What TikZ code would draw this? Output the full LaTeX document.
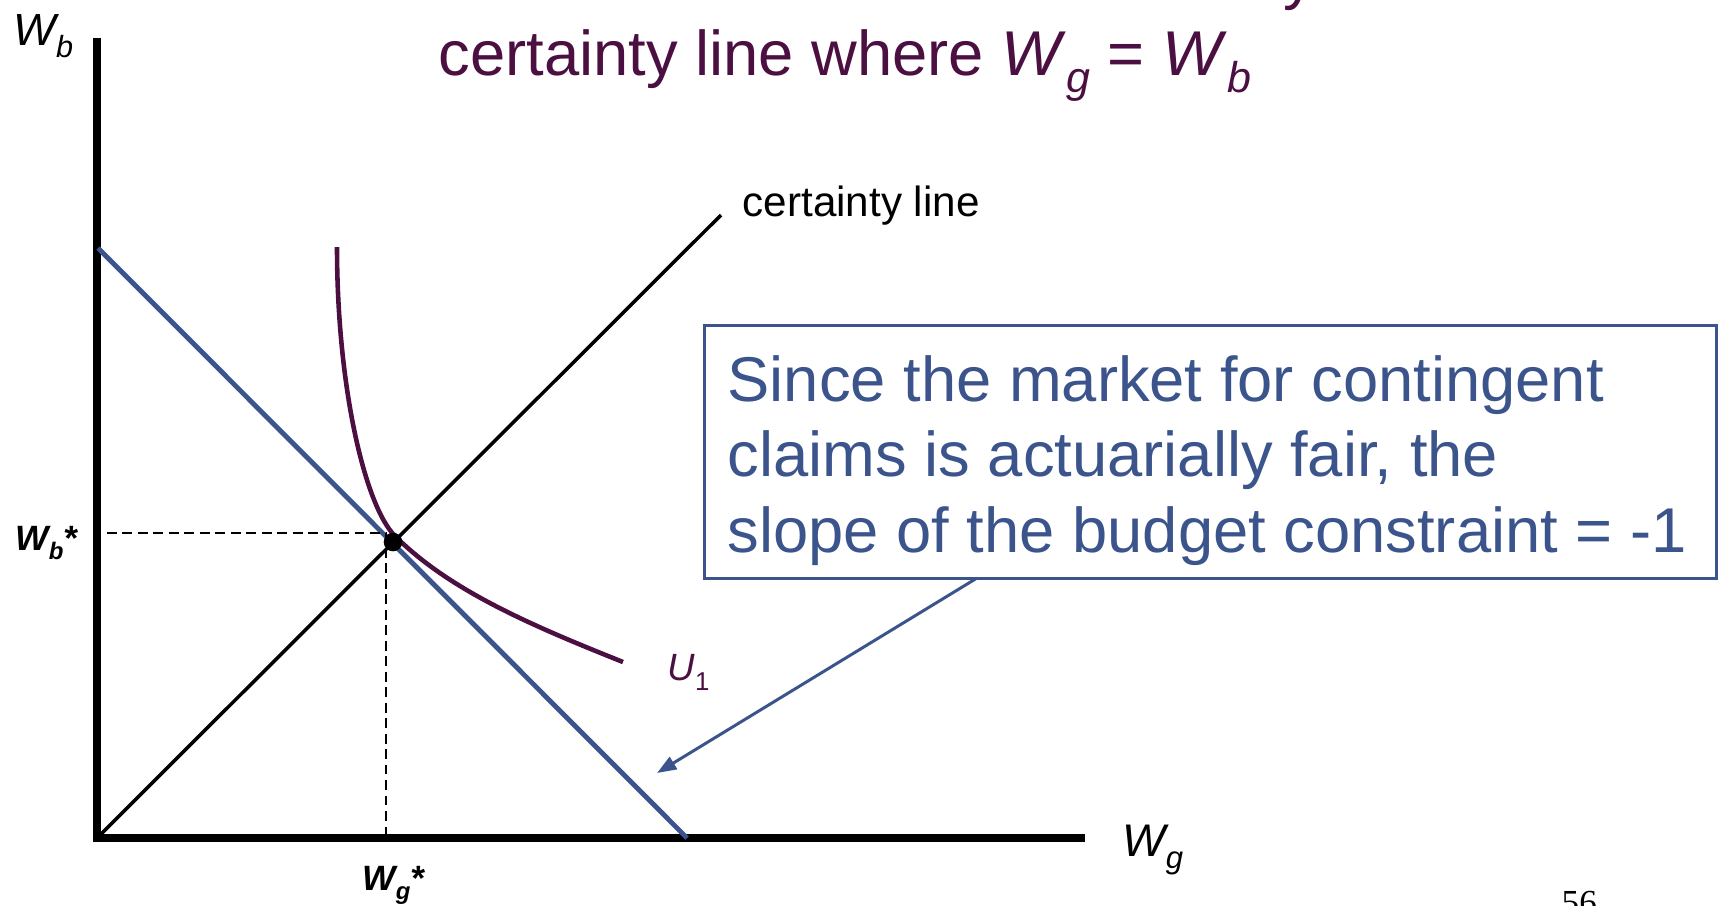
\documentclass[tikz,border=0pt]{standalone}
\usepackage{fontspec}
\setmainfont{Liberation Sans}
\newfontfamily\numfont{Liberation Serif}
\usetikzlibrary{arrows.meta}

\definecolor{plum}{RGB}{75,16,65}
\definecolor{slateblue}{RGB}{59,84,140}
\newcommand{\sbs}[1]{\raisebox{-0.28em}{\scalebox{0.68}{#1}}}

\tikzset{
  lbl/.style={inner sep=0pt, anchor=base west},
  axis/.style={line width=2.3pt, line join=miter},
  guide/.style={line width=0.6pt, dash pattern=on 2.8pt off 1.6pt},
  budget/.style={slateblue, line width=1.4pt},
  utility/.style={plum, line width=1.3pt},
  bigtext/.style={font=\fontsize{18pt}{21.5pt}\selectfont},
}

\begin{document}
\begin{tikzpicture}[x=0.01cm, y=-0.01cm]
    \useasboundingbox (0,0) rectangle (1719,905);
    \clip (0,0) rectangle (1719,905);
    % points of the diagram
    \coordinate (O) at (97,838);
    \coordinate (ytop) at (97,38);
    \coordinate (xend) at (1085,838);
    \coordinate (cert) at (721,215);
    \coordinate (bgtop) at (98,248);
    \coordinate (bgbot) at (687,838);
    \coordinate (opt) at (393,542);
    \coordinate (corner) at (386,533);
    \coordinate (wbend) at (107,533);
    \coordinate (wgend) at (386,838);
    \coordinate (utop) at (337,247);
    \coordinate (utouch) at (395,536);
    \coordinate (uend) at (623,662);
    % axes and lines
    \draw[axis] (ytop) -- (O) -- (xend);
    \draw[line width=1pt] (O) -- (cert);
    \draw[budget] (bgtop) -- (bgbot);
    \draw[utility] (utop) .. controls (337,387) and (365,506) .. (utouch)
        .. controls (450,591) and (533,626) .. (uend);
    \draw[guide] (wbend) -- (corner) -- (wgend);
    \fill (opt) circle[radius=0.093cm];
    % labels
    \node[lbl, plum, bigtext] (ytail) at (1283,-3) {y};
    \node[lbl, plum, bigtext] (title) at (438,75) {certainty line where \textit{W}\sbs{\textit{g}} = \textit{W}\sbs{\textit{b}}};
    \node[lbl, font=\fontsize{12.8pt}{15pt}\selectfont\itshape] (wb) at (13,45) {W\sbs{b}};
    \node[lbl, font=\fontsize{13pt}{15pt}\selectfont\itshape] (wg) at (1122,856) {W\sbs{g}};
    \node[lbl, font=\fontsize{10pt}{12pt}\selectfont\bfseries\itshape] (wbstar) at (15,550) {W\sbs{b}*};
    \node[lbl, font=\fontsize{10pt}{12pt}\selectfont\bfseries\itshape] (wgstar) at (362,890) {W\sbs{g}*};
    \node[lbl, plum, font=\fontsize{10.8pt}{13pt}\selectfont\itshape] (u1) at (667,680) {U\sbs{\upshape 1}};
    \node[lbl, font=\fontsize{12pt}{14pt}\selectfont] (certlbl) at (742,216) {certainty line};
    \node[lbl, font=\fontsize{10pt}{12pt}\numfont] (pagenum) at (1561,914) {56};
    % note box
    \node[draw=slateblue, line width=0.85pt, minimum width=10.115cm, minimum height=2.52cm, inner sep=0pt] (note) at (1210.75,452) {};
    \node[lbl, slateblue, bigtext] (line1) at (727,401) {Since the market for contingent};
    \node[lbl, slateblue, bigtext] (line2) at (727,476) {claims is actuarially fair, the};
    \node[lbl, slateblue, bigtext] (line3) at (727,552) {slope of the budget constraint = -1};
    \coordinate (tail) at (977,578);
    \coordinate (tip) at (657,773);
    \draw[slateblue, line width=0.85pt, -{Triangle[length=5.5pt,width=4pt]}] (tail) -- (tip);
\end{tikzpicture}
\end{document}
